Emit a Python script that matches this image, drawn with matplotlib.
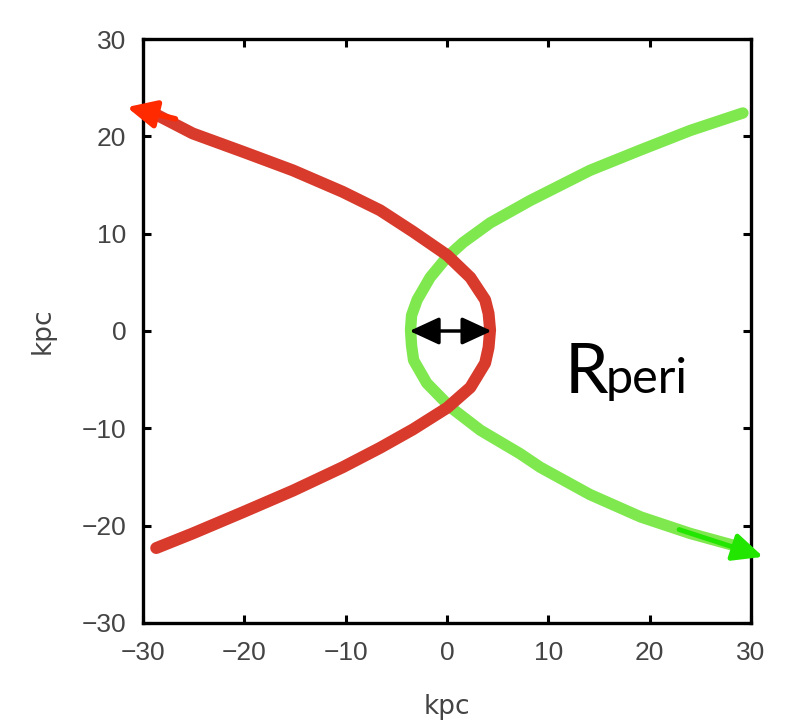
import matplotlib
matplotlib.use("Agg")
import matplotlib.pyplot as plt
from matplotlib.patches import FancyArrowPatch

# ---- data (kpc) ----
red_x = [-29.0, -25.1, -20.1, -15.2, -10.3, -6.6, -3.35, 0.0, 2.3, 3.76, 4.1, 4.25,
         4.1, 3.76, 2.3, 0.0, -3.35, -6.6, -10.3, -15.2, -20.1, -25.1, -28.7]
red_y = [22.4, 20.3, 18.4, 16.5, 14.3, 12.4, 10.2, 7.8, 5.5, 3.2, 1.8, 0.1,
         -1.7, -3.3, -5.8, -7.9, -10.1, -12.0, -14.0, -16.4, -18.6, -20.8, -22.3]

green_x = [29.2, 24.0, 19.1, 14.1, 8.2, 4.25, 1.6, 0.0, -1.67, -2.95, -3.5, -3.6,
           -3.5, -3.3, -2.0, 0.3, 3.3, 7.2, 9.2, 14.1, 19.1, 24.0, 28.9]
green_y = [22.4, 20.6, 18.6, 16.5, 13.4, 11.1, 9.1, 7.6, 5.5, 3.2, 1.6, 0.1,
           -1.5, -3.0, -5.35, -7.8, -10.2, -12.6, -14.0, -16.8, -19.1, -20.8, -22.2]

red_arrow = [(-26.8, 21.8), (-31.6, 23.0)]
green_arrow = [(22.9, -20.4), (31.2, -23.2)]
peri_arrow = [(-3.7, 0.0), (4.4, 0.0)]

ticks = [-30, -20, -10, 0, 10, 20, 30]
tick_labels = ["\u221230", "\u221220", "\u221210", "0", "10", "20", "30"]
xlabel = "kpc"
ylabel = "kpc"

fig = plt.figure(figsize=(8.08, 7.25), dpi=100)
ax = fig.add_axes([0.177, 0.1407, 0.7525, 0.8055])

ax.plot(red_x, red_y, color="#d83a2c", lw=8.6, solid_capstyle="round", solid_joinstyle="round", zorder=3)
ax.plot(green_x, green_y, color="#7fe84e", lw=8.2, solid_capstyle="round", solid_joinstyle="round", zorder=2)

ax.add_patch(FancyArrowPatch(red_arrow[0], red_arrow[1], arrowstyle="-|>,head_length=1.25,head_width=0.6",
                             mutation_scale=14, color="#ff2a00", lw=4, clip_on=False, zorder=5,
                             shrinkA=0, shrinkB=0))
ax.add_patch(FancyArrowPatch(green_arrow[0], green_arrow[1], arrowstyle="-|>,head_length=1.3,head_width=0.6",
                             mutation_scale=14, color="#22e600", lw=3.5, clip_on=False, zorder=5,
                             shrinkA=0, shrinkB=0))
ax.add_patch(FancyArrowPatch(peri_arrow[0], peri_arrow[1], arrowstyle="<|-|>,head_length=1.3,head_width=0.6",
                             mutation_scale=14, color="black", lw=2.5, zorder=6,
                             shrinkA=0, shrinkB=0))

ax.set_xlim(-30, 30)
ax.set_ylim(-30, 30)
ax.set_xticks(ticks)
ax.set_yticks(ticks)
tick_font = dict(family=["Liberation Sans", "DejaVu Sans"], size=19, color="#444444")
ax.set_xticklabels(tick_labels, **tick_font)
ax.set_yticklabels(tick_labels, **tick_font)
ax.tick_params(direction="in", length=6, width=2.2, top=True, right=True)
ax.tick_params(axis="x", pad=13)
ax.tick_params(axis="y", pad=12)
for s in ax.spines.values():
    s.set_linewidth(2.4)

ax.set_xlabel(xlabel, fontsize=19, color="#444444", labelpad=21)
ax.set_ylabel(ylabel, fontsize=19, color="#444444", labelpad=19)

fig.text(565 / 808, 1 - 393 / 725, "R", fontsize=50, family="Lato", color="black", ha="left", va="baseline")
fig.text(606 / 808, 1 - 393 / 725, "peri", fontsize=35, family="Lato", color="black", ha="left", va="baseline")

fig.savefig("out.png", dpi=100)
